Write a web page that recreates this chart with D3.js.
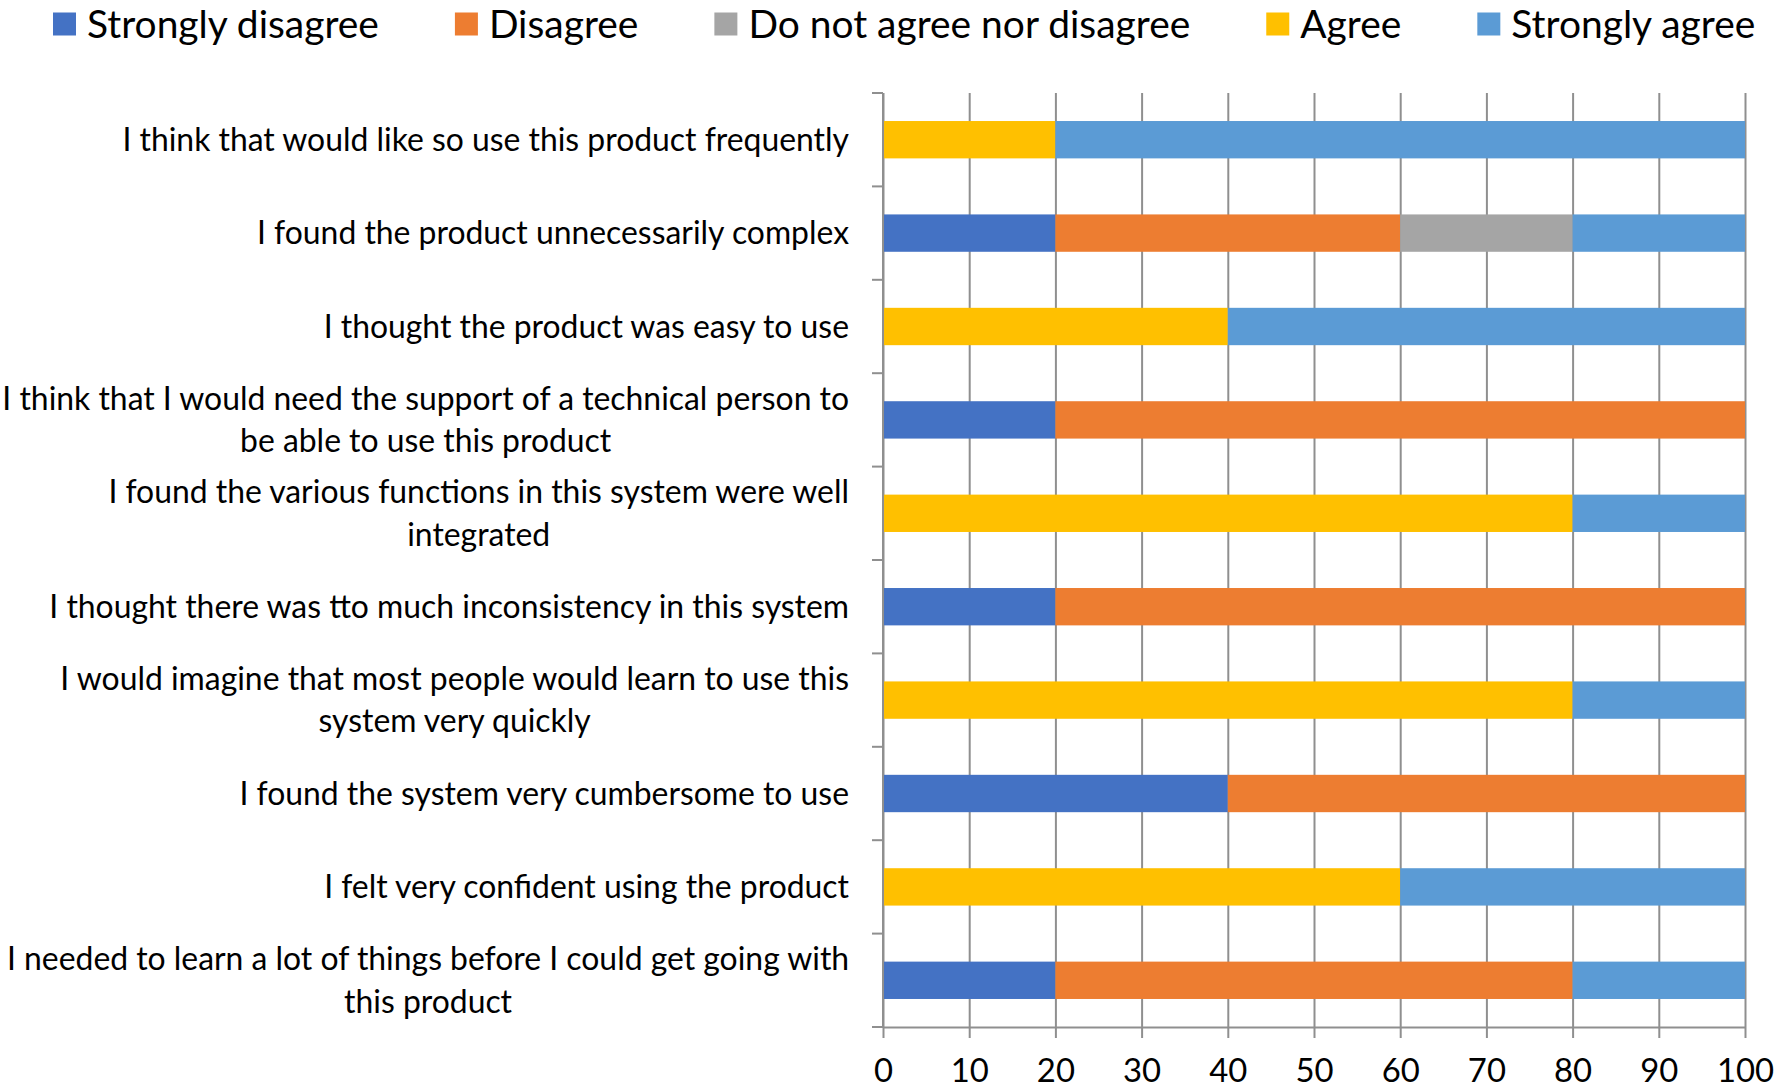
<!DOCTYPE html>
<html>
<head>
<meta charset="utf-8">
<script src="https://cdn.jsdelivr.net/npm/d3@7"></script>
<style>
  html, body { margin: 0; padding: 0; background: #fff; }
  svg { display: block; }
</style>
</head>
<body>
<svg id="chart" width="1776" height="1088"></svg>
<script>
// ---------------- DATA ----------------
const categories = [
  "I think that would like so use this product frequently",
  "I found the product unnecessarily complex",
  "I thought the product was easy to use",
  "I think that I would need the support of a technical person to be able to use this product",
  "I found the various functions in this system were well integrated",
  "I thought there was tto much inconsistency in this system",
  "I would imagine that most people would learn to use this system very quickly",
  "I found the system very cumbersome to use",
  "I felt very confident using the product",
  "I needed to learn a lot of things before I could get going with this product"
];
const categoryLines = [
  ["I think that would like so use this product frequently"],
  ["I found the product unnecessarily complex"],
  ["I thought the product was easy to use"],
  ["I think that I would need the support of a technical person to", "be able to use this product"],
  ["I found the various functions in this system were well", "integrated"],
  ["I thought there was tto much inconsistency in this system"],
  ["I would imagine that most people would learn to use this", "system very quickly"],
  ["I found the system very cumbersome to use"],
  ["I felt very confident using the product"],
  ["I needed to learn a lot of things before I could get going with", "this product"]
];
const seriesNames = ["Strongly disagree", "Disagree", "Do not agree nor disagree", "Agree", "Strongly agree"];
const stronglyDisagree = [0, 20, 0, 20, 0, 20, 0, 40, 0, 20];
const disagree         = [0, 40, 0, 80, 0, 80, 0, 60, 0, 60];
const neutral          = [0, 20, 0, 0, 0, 0, 0, 0, 0, 0];
const agree            = [20, 0, 40, 0, 80, 0, 80, 0, 60, 0];
const stronglyAgree    = [80, 20, 60, 0, 20, 0, 20, 0, 40, 20];
const xTicks = [0, 10, 20, 30, 40, 50, 60, 70, 80, 90, 100];

// ---------------- STYLE ----------------
const colors = ["#4472C4", "#ED7D31", "#A5A5A5", "#FFC000", "#5B9BD5"];
const FONT = "Lato, 'Open Sans', sans-serif";
const gridColor = "#8f8f8f";

const W = 1776, H = 1088;
const margin = { left: 883, right: 31, top: 93, bottom: 61 };

const svg = d3.select("#chart");

function fitFont(str, target) {
  const t = svg.append("text").style("font-family", FONT).style("font-size", "100px").text(str);
  const w = t.node().getComputedTextLength();
  t.remove();
  return 100 * target / w;
}
const labelSize = fitFont("I think that I would need the support of a technical person to", 847);
const legendSize = fitFont("Strongly disagree", 292);
const tickSize = labelSize * 1.03;

// table for stacking
const seriesArrays = [stronglyDisagree, disagree, neutral, agree, stronglyAgree];
const table = categories.map((c, i) => {
  const row = { category: c };
  seriesNames.forEach((s, j) => row[s] = seriesArrays[j][i]);
  return row;
});
const stacked = d3.stack().keys(seriesNames)(table);

const x = d3.scaleLinear().domain([0, 100]).range([margin.left, W - margin.right]);
const y = d3.scaleBand().domain(categories).range([margin.top, H - margin.bottom])
  .paddingInner(0.6).paddingOuter(0.3);

// gridlines
const plotH = H - margin.bottom - margin.top;
svg.append("g")
  .attr("transform", `translate(0,${H - margin.bottom})`)
  .call(d3.axisBottom(x).tickValues(xTicks).tickSize(-plotH).tickFormat(""))
  .call(g => g.select(".domain").remove())
  .call(g => g.selectAll("line").attr("stroke", gridColor).attr("stroke-width", 2));

// bars
svg.append("g").selectAll("g").data(stacked).join("g")
  .attr("fill", (d, i) => colors[i])
  .selectAll("rect").data(d => d.filter(v => v[1] - v[0] > 0)).join("rect")
  .attr("x", d => x(d[0]))
  .attr("width", d => x(d[1]) - x(d[0]))
  .attr("y", d => y(d.data.category))
  .attr("height", y.bandwidth());

// x axis
const xAxis = svg.append("g")
  .attr("transform", `translate(0,${H - margin.bottom})`)
  .call(d3.axisBottom(x).tickValues(xTicks).tickSize(11).tickPadding(21).tickSizeOuter(0))
  .call(g => g.select(".domain").attr("stroke", gridColor).attr("stroke-width", 2))
  .call(g => g.selectAll(".tick line").attr("stroke", gridColor).attr("stroke-width", 2));
xAxis.selectAll(".tick text")
  .attr("fill", "#000")
  .style("font-family", FONT)
  .style("font-size", tickSize + "px");

// y axis: line + boundary ticks
const step = y.step();
const gap = (step - y.bandwidth()) / 2;
const boundaries = categories.map(c => y(c) - gap).concat([y(categories[categories.length - 1]) + y.bandwidth() + gap]);
const yAx = svg.append("g");
yAx.append("line")
  .attr("x1", x(0)).attr("x2", x(0))
  .attr("y1", boundaries[0]).attr("y2", boundaries[boundaries.length - 1])
  .attr("stroke", gridColor).attr("stroke-width", 2);
yAx.selectAll(".ytick").data(boundaries).join("line")
  .attr("class", "ytick")
  .attr("x1", x(0) - 11).attr("x2", x(0))
  .attr("y1", d => d).attr("y2", d => d)
  .attr("stroke", gridColor).attr("stroke-width", 2);

// category labels
const labelRight = x(0) - 34;
const lineH = labelSize * 1.33;
const lg = svg.append("g");
categories.forEach((c, i) => {
  const lines = categoryLines[i];
  const cy = y(c) + y.bandwidth() / 2;
  const t = lg.append("text")
    .style("font-family", FONT).style("font-size", labelSize + "px").attr("fill", "#000");
  const tspans = t.selectAll("tspan").data(lines).join("tspan").text(d => d);
  const widths = tspans.nodes().map(n => n.getComputedTextLength());
  const maxW = d3.max(widths);
  const cx = labelRight - maxW / 2;
  tspans
    .attr("x", cx)
    .attr("text-anchor", "middle")
    .attr("y", (d, k) => cy + (k - (lines.length - 1) / 2) * lineH)
    .attr("dy", "0.35em");
});

// legend
const legend = svg.append("g");
let lx = 53;
const ly = 24;
seriesNames.forEach((s, i) => {
  const g = legend.append("g");
  g.append("rect").attr("x", lx).attr("y", ly - 11.5).attr("width", 23).attr("height", 23).attr("fill", colors[i]);
  const t = g.append("text").attr("x", lx + 34).attr("y", ly).attr("dy", "0.35em")
    .style("font-family", FONT).style("font-size", legendSize + "px").attr("fill", "#000").text(s);
  lx += 34 + t.node().getComputedTextLength() + 76;
});
</script>
</body>
</html>
